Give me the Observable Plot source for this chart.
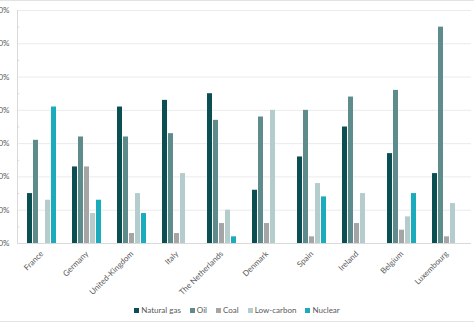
<!DOCTYPE html>
<html>
<head>
<meta charset="utf-8">
<script src="https://cdn.jsdelivr.net/npm/d3@7"></script>
<script src="https://cdn.jsdelivr.net/npm/@observablehq/plot@0.6"></script>
<style>
  html, body { margin: 0; padding: 0; background: #fff; overflow: hidden; }
  #wrap { position: relative; width: 474px; height: 324px; overflow: hidden; font-family: Lato, "Open Sans", sans-serif; }
  #topline { position: absolute; left: 0; right: 0; top: 0; height: 1px; background: #e3e3e3; }
  #botline { position: absolute; left: 0; right: 0; top: 321px; height: 1px; background: #e3e3e3; }
  .layer { position: absolute; left: -8px; top: 0; }
  #legend { position: absolute; left: 0; right: 0; top: 305px; display: flex; justify-content: center; gap: 9px; font-size: 8px; color: #595959; }
  #legend .item { display: flex; align-items: center; gap: 2px; }
  #legend .sw { width: 5px; height: 5px; display: inline-block; }
</style>
</head>
<body>
<div id="wrap">
  <div id="topline"></div>
  <div id="bg" class="layer"></div>
  <div id="bars" class="layer"></div>
  <div id="legend"></div>
  <div id="botline"></div>
</div>
<script>
const countries = ["France", "Germany", "United-Kingdom", "Italy", "The Netherlands", "Denmark", "Spain", "Ireland", "Belgium", "Luxembourg"];
const series = ["Natural gas", "Oil", "Coal", "Low-carbon", "Nuclear"];
const colors = ["#0b4f52", "#5e8b8b", "#a5a5a5", "#b4cccb", "#1aabbd"];
const naturalGas = [0.15, 0.23, 0.41, 0.43, 0.45, 0.16, 0.26, 0.35, 0.27, 0.21];
const oil        = [0.31, 0.32, 0.32, 0.33, 0.37, 0.38, 0.40, 0.44, 0.46, 0.65];
const coal       = [0.00, 0.23, 0.03, 0.03, 0.06, 0.06, 0.02, 0.06, 0.04, 0.02];
const lowCarbon  = [0.13, 0.09, 0.15, 0.21, 0.10, 0.40, 0.18, 0.15, 0.08, 0.12];
const nuclear    = [0.41, 0.13, 0.09, 0.00, 0.02, 0.00, 0.14, 0.00, 0.15, 0.00];
const yTicks = [0, 0.1, 0.2, 0.3, 0.4, 0.5, 0.6, 0.7];
const yMinor = [0.05, 0.15, 0.25, 0.35, 0.45, 0.55, 0.65];

const valuesBySeries = [naturalGas, oil, coal, lowCarbon, nuclear];
const data = [];
countries.forEach((c, i) => series.forEach((s, j) => data.push({country: c, series: s, value: valuesBySeries[j][i]})));

const W = 482, H = 300;
const margins = {marginLeft: 25, marginRight: 3, marginTop: 10, marginBottom: 57};
const style = {fontFamily: "Lato, 'Open Sans', sans-serif", fontSize: "8px", color: "#595959", background: "transparent"};

const bg = Plot.plot({
  width: W, height: H, ...margins, style,
  x: {domain: [0, 1], axis: null},
  y: {domain: [0, 0.7], axis: null},
  marks: [
    Plot.ruleY(yTicks.slice(1), {stroke: "#ebebeb", strokeWidth: 1}),
    Plot.ruleY([0], {stroke: "#d9d9d9"}),
    Plot.ruleX([0], {stroke: "#d9d9d9"}),
    Plot.ruleY(yMinor, {x1: 0, x2: 0.005, stroke: "#d9d9d9"}),
    Plot.axisY(yTicks, {tickSize: 0, tickPadding: 8, tickFormat: d3.format(".0%"), fill: "#595959", label: null})
  ]
});
document.getElementById("bg").appendChild(bg);

const bars = Plot.plot({
  width: W, height: H, ...margins, style,
  fx: {domain: countries, paddingInner: 0.265, paddingOuter: 0.13, axis: "bottom", tickRotate: -45, tickSize: 0, tickPadding: 9, label: null},
  x: {domain: series, axis: null, paddingInner: 0.19, paddingOuter: 0},
  y: {domain: [0, 0.7], axis: null},
  color: {domain: series, range: colors},
  marks: [
    Plot.barY(data, {fx: "country", x: "series", y: "value", fill: "series"})
  ]
});
document.getElementById("bars").appendChild(bars);

const legend = document.getElementById("legend");
series.forEach((s, i) => {
  const item = document.createElement("span");
  item.className = "item";
  const sw = document.createElement("span");
  sw.className = "sw";
  sw.style.background = colors[i];
  const t = document.createElement("span");
  t.textContent = s;
  item.appendChild(sw); item.appendChild(t);
  legend.appendChild(item);
});
</script>
</body>
</html>
